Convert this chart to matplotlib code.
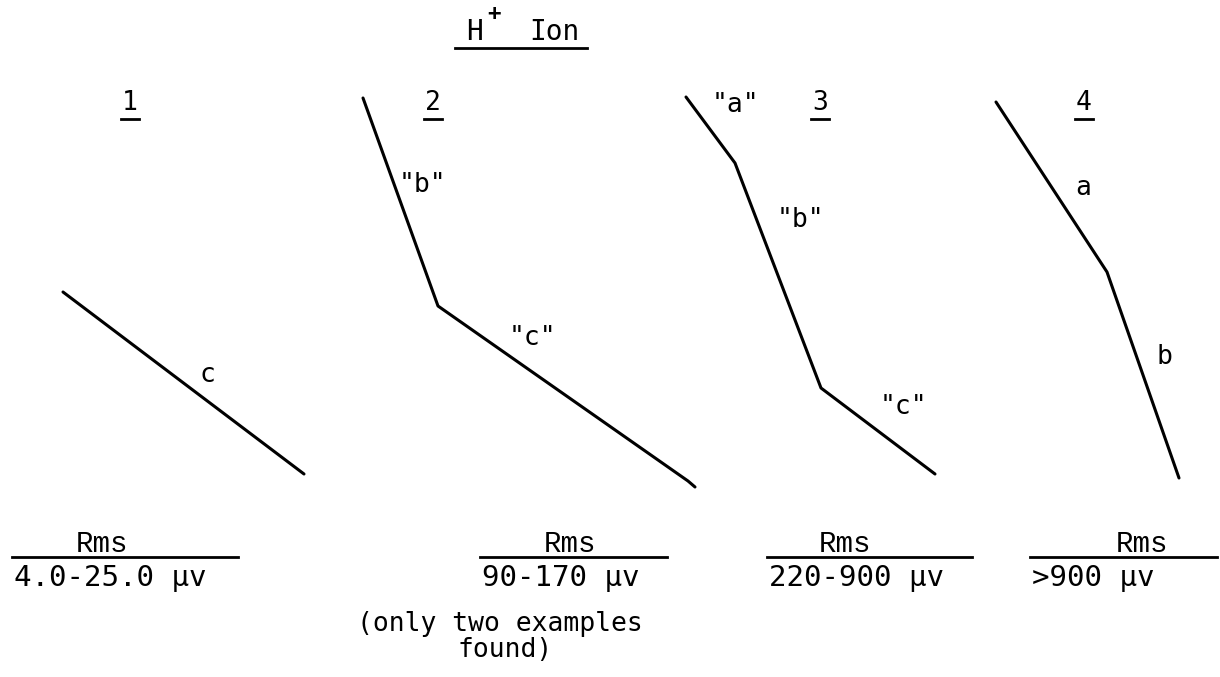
import matplotlib.pyplot as plt

# traced curves (pixel coords of the original sheet, y downwards)
curve1_x = [63, 304]
curve1_y = [292, 474]
curve2_x = [363, 438, 688, 695]
curve2_y = [98, 306, 481, 487]
curve3_x = [686, 735, 821, 935]
curve3_y = [97, 163, 388, 474]
curve4_x = [996, 1107, 1179]
curve4_y = [102, 272, 478]

panel_numbers = ['1', '2', '3', '4']
number_x = [130, 433, 820, 1084]
number_y = 103

segment_labels = ['c', '"b"', '"c"', '"a"', '"b"', '"c"', 'a', 'b']
segment_x = [207, 422, 532, 735, 800, 903, 1083, 1164]
segment_y = [375, 185, 338, 105, 220, 407, 188, 357]

rms_ranges = ['4.0-25.0 \u00b5v', '90-170 \u00b5v', '220-900 \u00b5v', '>900 \u00b5v']
rms_left = [12, 480, 767, 1030]
rms_right = [238, 667, 972, 1217]
rms_word_x = [102, 570, 845, 1142]

mono = 'DejaVu Sans Mono'
fs = 19


def main():
    fig = plt.figure(figsize=(12.2, 6.77), dpi=100)
    ax = fig.add_axes([0, 0, 1, 1])
    ax.set_xlim(0, 1220)
    ax.set_ylim(677, 0)
    ax.axis('off')

    for xs, ys in [(curve1_x, curve1_y), (curve2_x, curve2_y),
                   (curve3_x, curve3_y), (curve4_x, curve4_y)]:
        ax.plot(xs, ys, color='black', lw=2.2, solid_capstyle='round',
                solid_joinstyle='round')

    # title
    ax.text(474, 32, 'H', family=mono, fontsize=fs + 1, ha='center', va='center')
    ax.text(494, 14, '+', family=mono, fontsize=fs - 3, fontweight='bold',
            ha='center', va='center')
    ax.text(554, 32, 'Ion', family=mono, fontsize=fs + 1, ha='center', va='center')
    ax.plot([455, 587], [48, 48], color='black', lw=2)

    # panel numbers, underlined
    for n, x in zip(panel_numbers, number_x):
        ax.text(x, number_y, n, family=mono, fontsize=fs, ha='center', va='center')
        ax.plot([x - 9, x + 9], [number_y + 16, number_y + 16], color='black', lw=2)

    for s, x, y in zip(segment_labels, segment_x, segment_y):
        ax.text(x, y, s, family=mono, fontsize=fs, ha='center', va='center')

    # Rms fractions at the bottom
    for r, l, rr, wx in zip(rms_ranges, rms_left, rms_right, rms_word_x):
        ax.text(wx, 544, 'Rms', family='Liberation Mono', fontsize=fs + 2,
                ha='center', va='center')
        ax.plot([l, rr], [557, 557], color='black', lw=2)
        ax.text(l + 2, 578, r, family=mono, fontsize=fs + 2, ha='left', va='center')

    ax.text(500, 624, '(only two examples', family=mono, fontsize=fs,
            ha='center', va='center')
    ax.text(505, 650, 'found)', family=mono, fontsize=fs,
            ha='center', va='center')

    fig.savefig('out.png', dpi=100)


if __name__ == "__main__":
    main()
